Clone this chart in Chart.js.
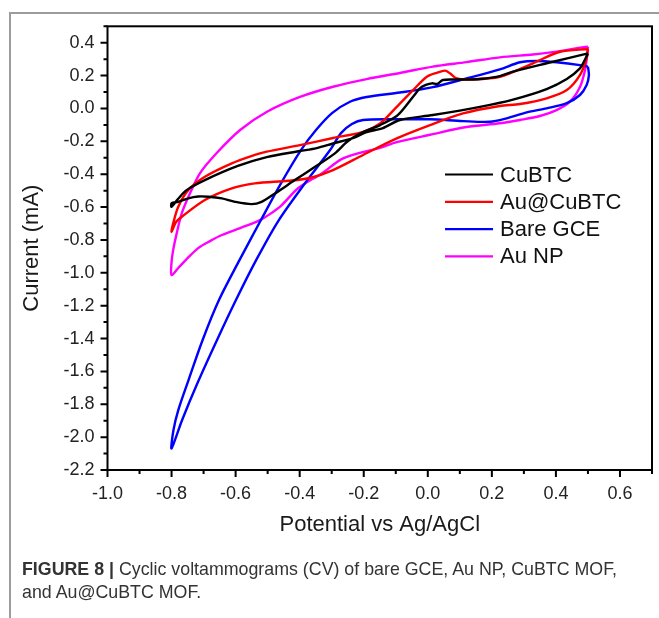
<!DOCTYPE html>
<html><head><meta charset="utf-8">
<script src="https://cdn.jsdelivr.net/npm/chart.js@4/dist/chart.umd.min.js"></script>
<style>
html,body{margin:0;padding:0;background:#fff;}
#wrap{position:relative;width:659px;height:618px;overflow:hidden;background:#fff;}
#frame{position:absolute;left:9px;top:12px;width:700px;height:700px;border-left:2px solid #9c9c9c;border-top:2px solid #9c9c9c;}
canvas{position:absolute;left:0;top:0;}
.cap{position:absolute;left:22px;font-family:'Liberation Sans',Arial,sans-serif;font-size:19px;color:#333;white-space:nowrap;transform-origin:0 0;}
</style></head>
<body><div id="wrap"><div id="frame"></div><canvas id="c" width="659" height="618"></canvas>
<div class="cap" id="cap1" style="top:558px"><b>FIGURE 8 |</b> Cyclic voltammograms (CV) of bare GCE, Au NP, CuBTC MOF,</div>
<div class="cap" id="cap2" style="top:581px">and Au@CuBTC MOF.</div>
</div>
<script>
// ---- data (potential V vs Ag/AgCl, current mA) ----
const seriesNames = ['CuBTC', 'Au@CuBTC', 'Bare GCE', 'Au NP'];
const seriesColors = ['#000000', '#ff0000', '#0000ff', '#ff00ff'];

const cubtc = [[0.500,0.335],[0.490,0.295],[0.475,0.244],[0.434,0.179],[0.371,0.118],[0.266,0.054],[0.163,0.010],[0.016,-0.040],[-0.087,-0.070],[-0.140,-0.119],[-0.191,-0.144],[-0.234,-0.180],[-0.296,-0.213],[-0.347,-0.241],[-0.399,-0.259],[-0.503,-0.296],[-0.593,-0.350],[-0.696,-0.436],[-0.753,-0.497],[-0.780,-0.551],[-0.800,-0.598],[-0.800,-0.576],[-0.779,-0.568],[-0.748,-0.547],[-0.717,-0.536],[-0.685,-0.537],[-0.643,-0.547],[-0.602,-0.568],[-0.550,-0.582],[-0.519,-0.568],[-0.477,-0.517],[-0.415,-0.436],[-0.352,-0.355],[-0.290,-0.273],[-0.249,-0.198],[-0.202,-0.144],[-0.149,-0.101],[-0.097,-0.046],[-0.071,0.009],[-0.046,0.071],[-0.024,0.124],[-0.006,0.143],[0.013,0.153],[0.029,0.149],[0.047,0.173],[0.085,0.176],[0.132,0.176],[0.163,0.179],[0.225,0.197],[0.266,0.224],[0.371,0.275],[0.500,0.335]];

const auCubtc = [[0.500,0.362],[0.413,0.345],[0.328,0.275],[0.225,0.193],[0.132,0.177],[0.090,0.183],[0.069,0.214],[0.054,0.230],[0.028,0.217],[-0.003,0.193],[-0.046,0.112],[-0.097,0.010],[-0.149,-0.091],[-0.202,-0.142],[-0.296,-0.180],[-0.399,-0.223],[-0.503,-0.263],[-0.540,-0.283],[-0.612,-0.334],[-0.696,-0.416],[-0.748,-0.497],[-0.779,-0.598],[-0.795,-0.699],[-0.800,-0.750],[-0.786,-0.691],[-0.768,-0.659],[-0.696,-0.557],[-0.612,-0.486],[-0.540,-0.456],[-0.436,-0.440],[-0.368,-0.423],[-0.296,-0.375],[-0.202,-0.283],[-0.097,-0.182],[0.007,-0.101],[0.110,-0.030],[0.225,0.015],[0.288,0.027],[0.371,0.062],[0.434,0.112],[0.475,0.203],[0.496,0.305],[0.500,0.362]];

const bareGce = [[0.500,0.254],[0.475,0.264],[0.402,0.281],[0.340,0.289],[0.288,0.281],[0.225,0.238],[0.121,0.183],[0.016,0.130],[-0.087,0.097],[-0.191,0.070],[-0.243,0.041],[-0.299,-0.028],[-0.349,-0.131],[-0.396,-0.253],[-0.458,-0.454],[-0.521,-0.679],[-0.588,-0.923],[-0.652,-1.166],[-0.703,-1.409],[-0.747,-1.653],[-0.779,-1.836],[-0.794,-1.957],[-0.800,-2.069],[-0.767,-1.896],[-0.719,-1.671],[-0.658,-1.409],[-0.599,-1.166],[-0.536,-0.923],[-0.465,-0.679],[-0.383,-0.454],[-0.305,-0.253],[-0.271,-0.150],[-0.237,-0.095],[-0.202,-0.070],[-0.097,-0.066],[0.007,-0.066],[0.110,-0.077],[0.194,-0.081],[0.246,-0.060],[0.309,-0.024],[0.371,0.001],[0.434,0.033],[0.475,0.082],[0.496,0.143],[0.503,0.203],[0.500,0.254]];

const auNp = [[0.500,0.376],[0.475,0.370],[0.431,0.355],[0.371,0.338],[0.328,0.328],[0.225,0.311],[0.121,0.282],[0.016,0.255],[-0.087,0.216],[-0.191,0.179],[-0.296,0.132],[-0.399,0.070],[-0.502,-0.020],[-0.586,-0.131],[-0.659,-0.271],[-0.711,-0.393],[-0.742,-0.515],[-0.768,-0.637],[-0.784,-0.760],[-0.795,-0.862],[-0.800,-0.935],[-0.800,-1.014],[-0.779,-0.971],[-0.753,-0.917],[-0.717,-0.850],[-0.680,-0.807],[-0.643,-0.770],[-0.586,-0.728],[-0.524,-0.679],[-0.493,-0.643],[-0.456,-0.588],[-0.404,-0.484],[-0.331,-0.395],[-0.269,-0.308],[-0.212,-0.270],[-0.149,-0.240],[-0.097,-0.205],[0.007,-0.160],[0.121,-0.113],[0.225,-0.090],[0.288,-0.070],[0.350,-0.046],[0.402,-0.010],[0.444,0.041],[0.475,0.130],[0.491,0.234],[0.497,0.319],[0.500,0.376]];

const xTickValues = [-1.0,-0.8,-0.6,-0.4,-0.2,0.0,0.2,0.4,0.6];
const yTickValues = [-2.2,-2.0,-1.8,-1.6,-1.4,-1.2,-1.0,-0.8,-0.6,-0.4,-0.2,0.0,0.2,0.4];
const xRange = [-1.0, 0.7];
const yRange = [-2.2, 0.5];
const xTitle = 'Potential vs Ag/AgCl';
const yTitle = 'Current (mA)';

// ---- chart ----
const FONT = "'Liberation Sans', Arial, Helvetica, sans-serif";
Chart.defaults.font.family = FONT;

const allSeries = [cubtc, auCubtc, bareGce, auNp];
const datasets = allSeries.map((s, i) => ({
  label: seriesNames[i],
  data: s.map(p => ({x: p[0], y: p[1]})),
  showLine: true,
  borderColor: seriesColors[i],
  backgroundColor: seriesColors[i],
  borderWidth: 2.4,
  pointRadius: 0,
  tension: 0.3,
  fill: false
}));

function minorOf(vals, hi) {
  const out = [];
  for (let i = 0; i < vals.length; i++) {
    const next = i + 1 < vals.length ? vals[i + 1] : vals[i] + (vals[1] - vals[0]);
    const m = (vals[i] + next) / 2;
    if (m <= hi + 1e-9) out.push(m);
  }
  return out;
}

const frameTicks = {
  id: 'frameTicks',
  afterDatasetsDraw(chart) {
    const {ctx, chartArea: a, scales: {x, y}} = chart;
    ctx.save();
    ctx.strokeStyle = '#000';
    ctx.lineWidth = 2;
    ctx.strokeRect(a.left, a.top, a.right - a.left, a.bottom - a.top);
    ctx.beginPath();
    xTickValues.forEach(v => { const p = x.getPixelForValue(v); ctx.moveTo(p, a.bottom); ctx.lineTo(p, a.bottom + 7); });
    minorOf(xTickValues, xRange[1]).forEach(v => { const p = x.getPixelForValue(v); ctx.moveTo(p, a.bottom); ctx.lineTo(p, a.bottom + 4); });
    yTickValues.forEach(v => { const p = y.getPixelForValue(v); ctx.moveTo(a.left, p); ctx.lineTo(a.left - 7, p); });
    minorOf(yTickValues, yRange[1]).forEach(v => { const p = y.getPixelForValue(v); ctx.moveTo(a.left, p); ctx.lineTo(a.left - 4, p); });
    ctx.stroke();
    ctx.restore();
  }
};

const insideLegend = {
  id: 'insideLegend',
  afterDraw(chart) {
    const ctx = chart.ctx;
    ctx.save();
    ctx.font = '22px ' + FONT;
    ctx.textBaseline = 'middle';
    ctx.textAlign = 'left';
    chart.data.datasets.forEach((ds, i) => {
      const yy = 174.5 + i * 27.3;
      ctx.strokeStyle = ds.borderColor;
      ctx.lineWidth = 2.2;
      ctx.beginPath(); ctx.moveTo(445, yy); ctx.lineTo(493, yy); ctx.stroke();
      ctx.fillStyle = '#111';
      ctx.fillText(ds.label, 500, yy + 1);
    });
    ctx.restore();
  }
};

new Chart(document.getElementById('c'), {
  type: 'scatter',
  data: {datasets},
  options: {
    responsive: false,
    animation: false,
    devicePixelRatio: 1,
    layout: {padding: {left: 0, top: 26.3, right: 7, bottom: 78}},
    plugins: {legend: {display: false}, tooltip: {enabled: false}},
    scales: {
      x: {
        type: 'linear', min: xRange[0], max: xRange[1],
        afterBuildTicks: s => { s.ticks = xTickValues.map(v => ({value: v})); },
        afterFit: s => { s.height = 70; },
        grid: {display: false, drawTicks: true, tickLength: 7},
        border: {display: false},
        ticks: {color: '#222', font: {size: 18}, padding: 6, maxRotation: 0, autoSkip: false,
                callback: v => Number(v).toFixed(1)},
        title: {display: true, text: xTitle, color: '#1a1a1a', font: {size: 22}, padding: {top: 0, bottom: 2}}
      },
      y: {
        type: 'linear', min: yRange[0], max: yRange[1],
        afterBuildTicks: s => { s.ticks = yTickValues.map(v => ({value: v})); },
        afterFit: s => { s.width = 107.5; },
        grid: {display: false, drawTicks: true, tickLength: 7},
        border: {display: false},
        ticks: {color: '#222', font: {size: 18}, padding: 6, autoSkip: false,
                callback: v => Number(v).toFixed(1)},
        title: {display: true, text: yTitle, color: '#1a1a1a', font: {size: 22}, padding: {top: 19, bottom: 0}}
      }
    }
  },
  plugins: [frameTicks, insideLegend]
});

// caption width fit
const c1 = document.getElementById('cap1'), c2 = document.getElementById('cap2');
const w = c1.getBoundingClientRect().width;
const s = 595 / w;
c1.style.transform = 'scaleX(' + s + ')';
c2.style.transform = 'scaleX(' + s + ')';
</script>
</body></html>
